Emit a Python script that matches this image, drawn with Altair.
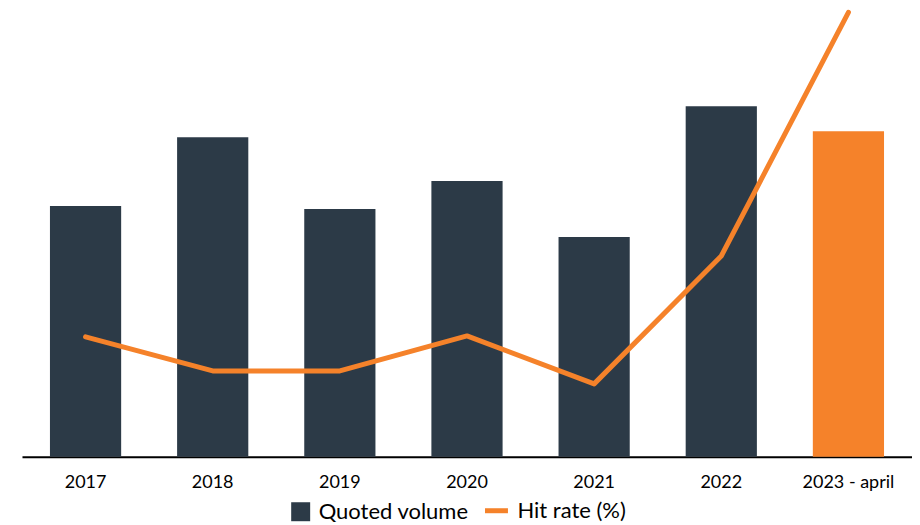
import altair as alt
import pandas as pd

years = ["2017", "2018", "2019", "2020", "2021", "2022", "2023 - april"]
quoted_volume = [251, 320, 248, 276, 220, 351, 326]
hit_rate = [6.0, 4.3, 4.3, 6.05, 3.65, 10.05, 22.25]

DARK = "#2c3a47"
ORANGE = "#f5822a"
FONT = "Lato"

df = pd.DataFrame({
    "year": years,
    "volume": quoted_volume,
    "hit": hit_rate,
    "vol_series": ["Quoted volume"] * len(years),
    "hit_series": ["Hit rate (%)"] * len(years),
})

x = alt.X(
    "year:N",
    sort=years,
    title=None,
    scale=alt.Scale(paddingInner=0.44, paddingOuter=0.22),
    axis=alt.Axis(
        labelAngle=0,
        labelFontSize=18,
        labelFont=FONT,
        labelColor="#000000",
        labelPadding=17,
        ticks=False,
        domainColor="#000000",
        domainWidth=2,
        grid=False,
    ),
)

bars = alt.Chart(df).mark_bar().encode(
    x=x,
    y=alt.Y("volume:Q", axis=None, scale=alt.Scale(domain=[0, 449], nice=False)),
    color=alt.condition(
        alt.datum.year == "2023 - april",
        alt.value(ORANGE),
        alt.Color(
            "vol_series:N",
            scale=alt.Scale(domain=["Quoted volume"], range=[DARK]),
            legend=alt.Legend(
                title=None,
                orient="none",
                legendX=268,
                legendY=493,
                symbolType="square",
                symbolSize=361,
                symbolOpacity=1,
                symbolStrokeWidth=0,
                labelFontSize=22,
                labelFont=FONT,
                labelColor="#000000",
                labelOffset=7,
            ),
        ),
    ),
)

line = alt.Chart(df).mark_line(strokeWidth=5, strokeCap="round", strokeJoin="round").encode(
    x=alt.X("year:N", sort=years),
    y=alt.Y("hit:Q", axis=None, scale=alt.Scale(domain=[0, 22.45], nice=False)),
    stroke=alt.Stroke(
        "hit_series:N",
        scale=alt.Scale(domain=["Hit rate (%)"], range=[ORANGE]),
        legend=alt.Legend(
            title=None,
            orient="none",
            legendX=461,
            legendY=489,
            symbolType="stroke",
            symbolSize=529,
            symbolStrokeWidth=5,
            labelFontSize=22,
            labelFont=FONT,
            labelColor="#000000",
            labelOffset=7,
        ),
    ),
)

chart = (
    alt.layer(bars, line)
    .resolve_scale(y="independent")
    .properties(
        width=891,
        height=449,
        background="#ffffff",
        padding={"left": 14, "top": 0, "right": 0, "bottom": 0},
    )
    .configure_view(strokeWidth=0, stroke="transparent")
)

chart.save("out.html", embed_options={"renderer": "svg", "actions": False})
